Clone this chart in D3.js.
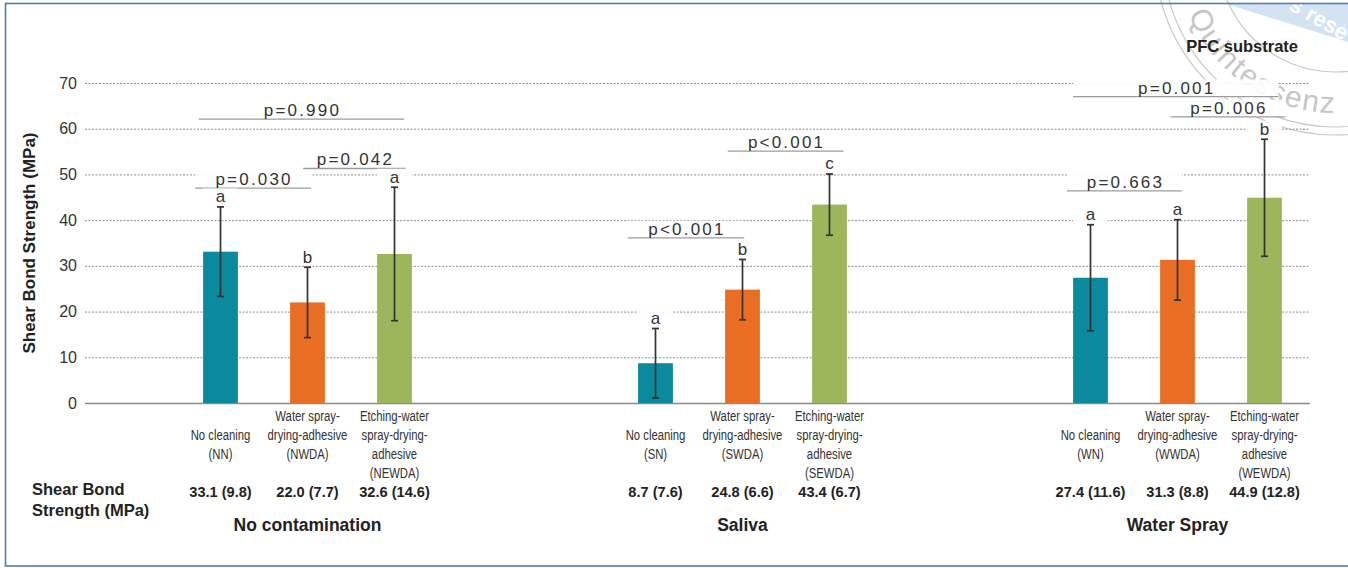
<!DOCTYPE html>
<html>
<head>
<meta charset="utf-8">
<script src="https://cdn.jsdelivr.net/npm/d3@7"></script>
<style>
  html, body { margin: 0; padding: 0; background: #fff; }
  svg text { font-family: "Liberation Sans", Arial, sans-serif; }
</style>
</head>
<body>
<div id="chart"></div>
<script>
// ---- data ----
const groups = ["No contamination", "Saliva", "Water Spray"];
const codes = ["NN", "NWDA", "NEWDA", "SN", "SWDA", "SEWDA", "WN", "WWDA", "WEWDA"];
const means = [33.1, 22.0, 32.6, 8.7, 24.8, 43.4, 27.4, 31.3, 44.9];
const sds = [9.8, 7.7, 14.6, 7.6, 6.6, 6.7, 11.6, 8.8, 12.8];
const letters = ["a", "b", "a", "a", "b", "c", "a", "a", "b"];
const treatments = [
  ["No cleaning"],
  ["Water spray-", "drying-adhesive"],
  ["Etching-water", "spray-drying-", "adhesive"]
];
const yTicks = [0, 10, 20, 30, 40, 50, 60, 70];

// pairwise comparisons: label, level (MPa), span in slot units
const pLabels = ["p=0.990", "p=0.030", "p=0.042", "p<0.001", "p<0.001", "p=0.001", "p=0.006", "p=0.663"];
const pLevels = [62.1, 47.0, 51.3, 36.1, 55.1, 67.0, 62.6, 46.4];
const pFrom = [-0.25, -0.29, 0.95, 4.68, 5.83, 9.80, 10.92, 9.73];
const pTo = [2.11, 1.04, 2.13, 6.02, 7.16, 12.16, 12.24, 11.05];

const colors = ["#0a8a9c", "#e96e24", "#9db65b"];

// slots: three bars per group, two empty slots between groups
const slots = ["NN", "NWDA", "NEWDA", "_1", "_2", "SN", "SWDA", "SEWDA", "_3", "_4", "WN", "WWDA", "WEWDA"];

const W = 1348, H = 568;
const svg = d3.select("#chart").append("svg")
  .attr("width", W).attr("height", H);

// faint publisher stamp in the top-right corner (behind the chart)
const wm = svg.append("g").attr("pointer-events", "none");
wm.append("path")
  .attr("d", "M1227,4 L1348,4 L1348,42 Z")
  .attr("fill", "#d3e3f1");
wm.append("text")
  .attr("transform", "translate(1288,9) rotate(30)")
  .attr("font-size", 22).attr("font-weight", "bold").attr("fill", "#fff")
  .text("s rese");
const sc = [1335, -45];
[117, 172, 180].forEach(r => {
  wm.append("circle").attr("cx", sc[0]).attr("cy", sc[1]).attr("r", r)
    .attr("fill", "none").attr("stroke", "#c8c8c8").attr("stroke-width", 1.2);
});
const a0 = 158 * Math.PI / 180, a1 = 78 * Math.PI / 180, rr = 158;
wm.append("path").attr("id", "stampArc").attr("fill", "none")
  .attr("d", `M${sc[0] + rr * Math.cos(a0)},${sc[1] + rr * Math.sin(a0)} A${rr},${rr} 0 0 0 ${sc[0] + rr * Math.cos(a1)},${sc[1] + rr * Math.sin(a1)}`);
wm.append("text").attr("font-size", 30).attr("fill", "#c6c6c6")
  .attr("letter-spacing", 2)
  .append("textPath").attr("href", "#stampArc").text("Quintessenz");

// frame
svg.append("rect")
  .attr("x", 5.5).attr("y", 3.5)
  .attr("width", 1360).attr("height", 562.5)
  .attr("fill", "none").attr("stroke", "#4f7db0").attr("stroke-width", 1.6);

const gridLeft = 85, gridRight = 1310;

const x = d3.scaleBand().domain(slots).range([177, 1308])
  .paddingInner(0.6).paddingOuter(0.3);
const bw = x.bandwidth();
const cx = c => x(c) + bw / 2;
const xs = d3.scaleLinear().domain([0, 1]).range([cx(slots[0]), cx(slots[1])]);

const y = d3.scaleLinear().domain([0, 70]).range([403, 83]);

// y axis + gridlines
const yAxis = svg.append("g")
  .attr("transform", `translate(${gridLeft},0)`)
  .call(d3.axisLeft(y).tickValues(yTicks).tickSize(-(gridRight - gridLeft)).tickPadding(8));
yAxis.select(".domain").remove();
yAxis.selectAll(".tick line")
  .attr("stroke", "#8e8e8e")
  .attr("stroke-width", 1)
  .attr("stroke-dasharray", d => d === 0 ? null : "2,1.5");
yAxis.selectAll(".tick").filter(d => d === 0).select("line")
  .attr("stroke", "#8a8a8a").attr("stroke-width", 1.6);
yAxis.selectAll(".tick text")
  .attr("font-size", 16).attr("fill", "#333")
  .attr("font-family", "Liberation Sans, Arial, sans-serif");

// axis title
svg.append("text")
  .attr("transform", "translate(29,243) rotate(-90)")
  .attr("text-anchor", "middle").attr("dominant-baseline", "central")
  .attr("font-size", 17).attr("font-weight", "bold").attr("fill", "#222")
  .text("Shear Bond Strength (MPa)");

const rows = codes.map((c, i) => ({
  code: c, mean: means[i], sd: sds[i], letter: letters[i],
  group: Math.floor(i / 3), kind: i % 3
}));

// comparison brackets (white boxes hide grid behind text)
const pData = pLabels.map((l, i) => ({ label: l, level: pLevels[i], from: pFrom[i], to: pTo[i] }));
const pg = svg.append("g");
pg.selectAll("rect").data(pData).join("rect")
  .attr("x", d => xs(d.from)).attr("width", d => xs(d.to) - xs(d.from))
  .attr("y", d => y(d.level) - 17.2).attr("height", 17.2)
  .attr("fill", "#fff").attr("opacity", 0.9);
pg.selectAll("line").data(pData).join("line")
  .attr("x1", d => xs(d.from)).attr("x2", d => xs(d.to))
  .attr("y1", d => y(d.level)).attr("y2", d => y(d.level))
  .attr("stroke", "#9c9c9c").attr("stroke-width", 1.3);
pg.selectAll("text").data(pData).join("text")
  .attr("x", d => (xs(d.from) + xs(d.to)) / 2 + 1)
  .attr("y", d => y(d.level) - 3)
  .attr("text-anchor", "middle")
  .attr("font-size", 17).attr("letter-spacing", 2.2).attr("fill", "#333")
  .text(d => d.label);

// bars
svg.append("g").selectAll("rect").data(rows).join("rect")
  .attr("x", d => x(d.code)).attr("width", bw)
  .attr("y", d => y(d.mean)).attr("height", d => y(0) - y(d.mean))
  .attr("fill", d => colors[d.kind]);

// error bars (mean +/- SD)
const eb = svg.append("g").attr("stroke", "#333").attr("stroke-width", 1.7);
eb.selectAll(".stem").data(rows).join("line").attr("class", "stem")
  .attr("x1", d => cx(d.code)).attr("x2", d => cx(d.code))
  .attr("y1", d => y(d.mean - d.sd)).attr("y2", d => y(d.mean + d.sd));
eb.selectAll(".capt").data(rows).join("line").attr("class", "capt")
  .attr("x1", d => cx(d.code) - 3.5).attr("x2", d => cx(d.code) + 3.5)
  .attr("y1", d => y(d.mean + d.sd)).attr("y2", d => y(d.mean + d.sd));
eb.selectAll(".capb").data(rows).join("line").attr("class", "capb")
  .attr("x1", d => cx(d.code) - 3.5).attr("x2", d => cx(d.code) + 3.5)
  .attr("y1", d => y(d.mean - d.sd)).attr("y2", d => y(d.mean - d.sd));

// significance letters
const lg = svg.append("g");
lg.selectAll("rect").data(rows).join("rect")
  .attr("x", d => x(d.code)).attr("width", bw)
  .attr("y", d => y(d.mean + d.sd) - 18.5).attr("height", 16)
  .attr("fill", "#fff").attr("opacity", 0.9);
lg.selectAll("text").data(rows).join("text")
  .attr("x", d => cx(d.code)).attr("y", d => y(d.mean + d.sd) - 4.5)
  .attr("text-anchor", "middle").attr("font-size", 17).attr("fill", "#333")
  .text(d => d.letter);

// category labels (narrowed to mimic the condensed face)
const rowY = [416, 435, 454, 473];
const cat = svg.append("g");
rows.forEach(d => {
  const lines = treatments[d.kind].concat(["(" + d.code + ")"]);
  const start = lines.length === 2 ? 1 : 0;
  cat.selectAll(null).data(lines).join("text")
    .attr("transform", (l, j) => `translate(${cx(d.code)},${rowY[start + j]}) scale(0.78,1)`)
    .attr("text-anchor", "middle").attr("dominant-baseline", "central")
    .attr("font-size", 14.5).attr("fill", "#333")
    .text(l => l);
});

// mean (SD) row
svg.append("g").selectAll("text").data(rows).join("text")
  .attr("x", d => cx(d.code)).attr("y", 492)
  .attr("text-anchor", "middle").attr("dominant-baseline", "central")
  .attr("font-size", 14.6).attr("font-weight", "bold").attr("fill", "#222")
  .text(d => `${d.mean.toFixed(1)} (${d.sd.toFixed(1)})`);

svg.append("text").attr("x", 32).attr("y", 489)
  .attr("dominant-baseline", "central")
  .attr("font-size", 16.5).attr("font-weight", "bold").attr("fill", "#222")
  .text("Shear Bond");
svg.append("text").attr("x", 32).attr("y", 510)
  .attr("dominant-baseline", "central")
  .attr("font-size", 16.5).attr("font-weight", "bold").attr("fill", "#222")
  .text("Strength (MPa)");

// group titles under the middle bar of each group
svg.append("g").selectAll("text").data(groups).join("text")
  .attr("x", (g, i) => cx(codes[i * 3 + 1])).attr("y", 525)
  .attr("text-anchor", "middle").attr("dominant-baseline", "central")
  .attr("font-size", 17.5).attr("font-weight", "bold").attr("fill", "#222")
  .text(g => g);

svg.append("text").attr("x", 1298).attr("y", 46)
  .attr("text-anchor", "end").attr("dominant-baseline", "central")
  .attr("font-size", 16.5).attr("font-weight", "bold").attr("fill", "#222")
  .text("PFC substrate");
</script>
</body>
</html>
